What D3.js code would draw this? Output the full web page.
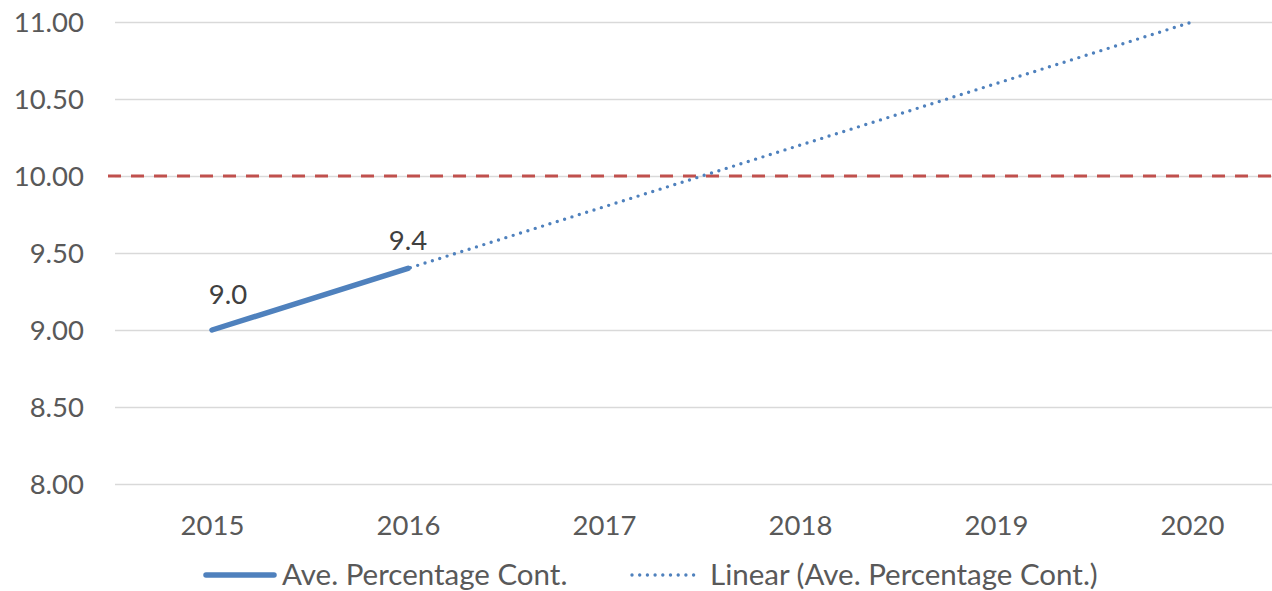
<!DOCTYPE html>
<html>
<head>
<meta charset="utf-8">
<script src="https://cdn.jsdelivr.net/npm/d3@7"></script>
<style>
  body { margin: 0; background: #fff; }
  text { font-family: Lato, "Open Sans", sans-serif; fill: #595959; }
</style>
</head>
<body>
<div id="chart"></div>
<script>
// data
var years = ["2015", "2016", "2017", "2018", "2019", "2020"];
var avePct = [9.0, 9.4];               // actual values (2015, 2016)
var trendYears = ["2015", "2020"];     // linear trend end points
var trendVals = [9.0, 11.0];
var targetVal = 10.0;
var yTicks = [8.0, 8.5, 9.0, 9.5, 10.0, 10.5, 11.0];
var legendNames = ["Ave. Percentage Cont.", "Linear (Ave. Percentage Cont.)"];

var W = 1272, H = 591;
var blue = "#4F81BD", red = "#C0504D";

var svg = d3.select("#chart").append("svg")
  .attr("width", W).attr("height", H);

var x = d3.scalePoint().domain(years).range([212, 1192]);
var y = d3.scaleLinear().domain([8, 11]).range([484, 22]);

//************************************************************
// grid + axes
//************************************************************
var yAxis = d3.axisLeft(y)
  .tickValues(yTicks)
  .tickSize(-(W - 115))
  .tickPadding(31)
  .tickFormat(d3.format(".2f"));

var gY = svg.append("g")
  .attr("transform", "translate(115,0)")
  .call(yAxis);
gY.select(".domain").remove();
gY.selectAll(".tick line").attr("stroke", "#D9D9D9").attr("stroke-width", 1.5);
gY.selectAll(".tick text").attr("font-size", 27.5).attr("dy", "0.36em");

var xAxis = d3.axisBottom(x).tickSize(0).tickPadding(0);
var gX = svg.append("g")
  .attr("transform", "translate(0,484)")
  .call(xAxis);
gX.select(".domain").remove();
gX.selectAll(".tick text").attr("font-size", 27.5).attr("dy", 0).attr("y", 51);

//************************************************************
// target line at 10
//************************************************************
svg.append("line")
  .attr("x1", 108).attr("x2", W)
  .attr("y1", y(targetVal)).attr("y2", y(targetVal))
  .attr("stroke", red).attr("stroke-width", 3)
  .attr("stroke-dasharray", "13 10");

//************************************************************
// trend + series
//************************************************************
var line = d3.line()
  .x(function(d) { return x(d.k); })
  .y(function(d) { return y(d.v); });

var trend = trendYears.map(function(k, i) { return {k: k, v: trendVals[i]}; });
svg.append("path")
  .attr("d", line(trend))
  .attr("fill", "none")
  .attr("stroke", blue).attr("stroke-width", 3.4)
  .attr("stroke-linecap", "round")
  .attr("stroke-dasharray", "0 7.7");

var series = avePct.map(function(v, i) { return {k: years[i], v: v}; });
svg.append("path")
  .attr("d", line(series))
  .attr("fill", "none")
  .attr("stroke", blue).attr("stroke-width", 5.5)
  .attr("stroke-linecap", "round");

// data labels
var labelDx = [16, 0], labelDy = [-26, -18];
svg.selectAll(".dlabel")
  .data(series)
  .enter().append("text")
  .attr("class", "dlabel")
  .attr("x", function(d, i) { return x(d.k) + labelDx[i]; })
  .attr("y", function(d, i) { return y(d.v) + labelDy[i]; })
  .attr("text-anchor", "middle")
  .attr("font-size", 27.5)
  .style("fill", "#404040")
  .text(function(d) { return d3.format(".1f")(d.v); });

//************************************************************
// legend
//************************************************************
var lg = svg.append("g");
lg.append("line")
  .attr("x1", 206).attr("x2", 274).attr("y1", 575).attr("y2", 575)
  .attr("stroke", blue).attr("stroke-width", 5.5).attr("stroke-linecap", "round");
lg.append("text").attr("x", 282).attr("y", 585).attr("font-size", 29.5).text(legendNames[0]);
lg.append("line")
  .attr("x1", 632).attr("x2", 700).attr("y1", 575).attr("y2", 575)
  .attr("stroke", blue).attr("stroke-width", 3.4)
  .attr("stroke-linecap", "round").attr("stroke-dasharray", "0 7.7");
lg.append("text").attr("x", 710).attr("y", 585).attr("font-size", 29.5).text(legendNames[1]);
</script>
</body>
</html>
